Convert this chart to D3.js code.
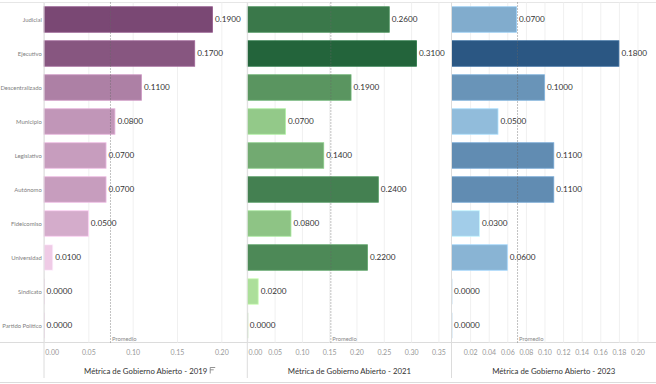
<!DOCTYPE html>
<html>
<head>
<meta charset="utf-8">
<script src="https://cdn.jsdelivr.net/npm/d3@7"></script>
<style>
  body { margin: 0; background: #fff; }
  text { font-family: Lato, "Open Sans", sans-serif; }
</style>
</head>
<body>
<div id="chart"></div>
<script>
var categories = ['Judicial', 'Ejecutivo', 'Descentralizado', 'Municipio', 'Legislativo',
  'Autónomo', 'Fideicomiso', 'Universidad', 'Sindicato', 'Partido Político']
var values2019 = [0.19, 0.17, 0.11, 0.08, 0.07, 0.07, 0.05, 0.01, 0, 0]
var values2021 = [0.26, 0.31, 0.19, 0.07, 0.14, 0.24, 0.08, 0.22, 0.02, 0]
var values2023 = [0.07, 0.18, 0.10, 0.05, 0.11, 0.11, 0.03, 0.06, 0, 0]
var titles = ['Métrica de Gobierno Abierto - 2019', 'Métrica de Gobierno Abierto - 2021', 'Métrica de Gobierno Abierto - 2023']
var ticks2019 = [0, 0.05, 0.10, 0.15, 0.20]
var ticks2021 = [0, 0.05, 0.10, 0.15, 0.20, 0.25, 0.30, 0.35]
var ticks2023 = [0.02, 0.04, 0.06, 0.08, 0.10, 0.12, 0.14, 0.16, 0.18, 0.20]

var width = 656
var height = 384
var plotTop = 2.5
var plotBottom = 342.5

var panels = [
  { values: values2019, ticks: ticks2019, title: titles[0], left: 44, right: 247.3, max: 0.2293, colors: ['#efcbe6', '#7a4874'], icon: true },
  { values: values2021, ticks: ticks2021, title: titles[1], left: 247.3, right: 451.5, max: 0.374, colors: ['#acdf9a', '#23643b'] },
  { values: values2023, ticks: ticks2023, title: titles[2], left: 451.5, right: 656, max: 0.2199, colors: ['#a2cde9', '#2b5783'] }
]

var svg = d3.select('#chart').append('svg')
  .attr('width', width)
  .attr('height', height)

var yScale = d3.scaleBand().domain(categories).range([plotTop, plotBottom])
  .paddingInner(0.25).paddingOuter(0.125)

// category labels
svg.append('g')
  .selectAll('text')
  .data(categories)
  .enter().append('text')
  .attr('x', 41.8)
  .attr('y', function (d) { return yScale(d) + yScale.bandwidth() / 2 })
  .attr('dy', '0.35em')
  .attr('text-anchor', 'end')
  .attr('font-size', 5.9)
  .attr('fill', '#808080')
  .text(function (d) { return d })

// frame lines
svg.append('line').attr('x1', 0).attr('x2', width).attr('y1', plotTop).attr('y2', plotTop).attr('stroke', '#e6e6e6')
svg.append('line').attr('x1', 0).attr('x2', width).attr('y1', plotBottom).attr('y2', plotBottom).attr('stroke', '#dcdcdc')
svg.append('line').attr('x1', 0).attr('x2', width).attr('y1', 382.5).attr('y2', 382.5).attr('stroke', '#dcdcdc')

panels.forEach(function (p) {
  var xScale = d3.scaleLinear().domain([0, p.max]).range([p.left, p.right])
  var nonZero = p.values.filter(function (v) { return v > 0 })
  var color = d3.scaleLinear().domain([d3.min(nonZero), d3.max(nonZero)]).range(p.colors)
    .interpolate(d3.interpolateHcl).clamp(true)
  var g = svg.append('g')

  // grid lines
  var grid = d3.axisBottom(xScale).tickValues(p.ticks).tickSize(-(plotBottom - plotTop)).tickFormat('')
  g.append('g')
    .attr('transform', 'translate(0,' + plotBottom + ')')
    .call(grid)
    .call(function (s) {
      s.select('.domain').remove()
      s.selectAll('line').attr('stroke', '#f0f0f0')
    })

  // bars
  g.selectAll('rect')
    .data(p.values)
    .enter().append('rect')
    .attr('x', xScale(0))
    .attr('y', function (d, i) { return yScale(categories[i]) })
    .attr('width', function (d) { return Math.max(1, xScale(d) - xScale(0)) })
    .attr('height', yScale.bandwidth())
    .attr('fill', function (d) { return color(d) })
    .attr('stroke', function (d) { return d3.color(color(d)).brighter(0.5) })
    .attr('stroke-width', function (d) { return d > 0 ? 0.8 : 0 })
    .attr('opacity', function (d) { return d > 0 ? 1 : 0.6 })

  // value labels
  g.selectAll('.val')
    .data(p.values)
    .enter().append('text')
    .attr('class', 'val')
    .attr('x', function (d) { return xScale(d) + 2.5 })
    .attr('y', function (d, i) { return yScale(categories[i]) + yScale.bandwidth() / 2 })
    .attr('dy', '0.35em')
    .attr('font-size', 8.2)
    .attr('fill', '#333')
    .text(function (d) { return d3.format('.4f')(d) })

  // average reference line
  var avg = d3.mean(p.values)
  g.append('line')
    .attr('x1', xScale(avg)).attr('x2', xScale(avg))
    .attr('y1', plotTop).attr('y2', plotBottom)
    .attr('stroke', '#666')
    .attr('stroke-width', 0.8)
    .attr('stroke-dasharray', '1,2')
  g.append('text')
    .attr('x', xScale(avg) + 1.5)
    .attr('y', 340.5)
    .attr('font-size', 5.8)
    .attr('fill', '#888')
    .text('Promedio')

  // axis
  var axis = d3.axisBottom(xScale).tickValues(p.ticks).tickSize(0).tickPadding(8)
    .tickFormat(d3.format('.2f'))
  g.append('g')
    .attr('transform', 'translate(0,' + plotBottom + ')')
    .call(axis)
    .call(function (s) {
      s.select('.domain').remove()
      s.selectAll('text')
        .attr('font-size', 7)
        .attr('fill', '#999')
        .attr('font-family', 'Lato, "Open Sans", sans-serif')
      s.selectAll('.tick').filter(function (d) { return d === 0 })
        .select('text').attr('text-anchor', 'start').attr('x', 0.8)
    })

  // panel left axis line
  g.append('line')
    .attr('x1', p.left).attr('x2', p.left)
    .attr('y1', plotTop).attr('y2', 378)
    .attr('stroke', '#dcdcdc')

  var cx = (p.left + p.right) / 2
  var title = g.append('text')
    .attr('x', cx)
    .attr('y', 373.5)
    .attr('text-anchor', 'middle')
    .attr('font-size', 7.8)
    .attr('fill', '#333')
    .text(p.title)

  if (p.icon) {
    var bb = title.node().getBBox()
    var ix = bb.x + bb.width + 2.5
    var icon = g.append('g').attr('stroke', '#777').attr('stroke-width', 0.8)
    icon.append('line').attr('x1', ix).attr('x2', ix + 5).attr('y1', 367.5).attr('y2', 367.5)
    icon.append('line').attr('x1', ix).attr('x2', ix + 3.5).attr('y1', 369.8).attr('y2', 369.8)
    icon.append('line').attr('x1', ix).attr('x2', ix).attr('y1', 367.5).attr('y2', 373.5)
  }
})
</script>
</body>
</html>
